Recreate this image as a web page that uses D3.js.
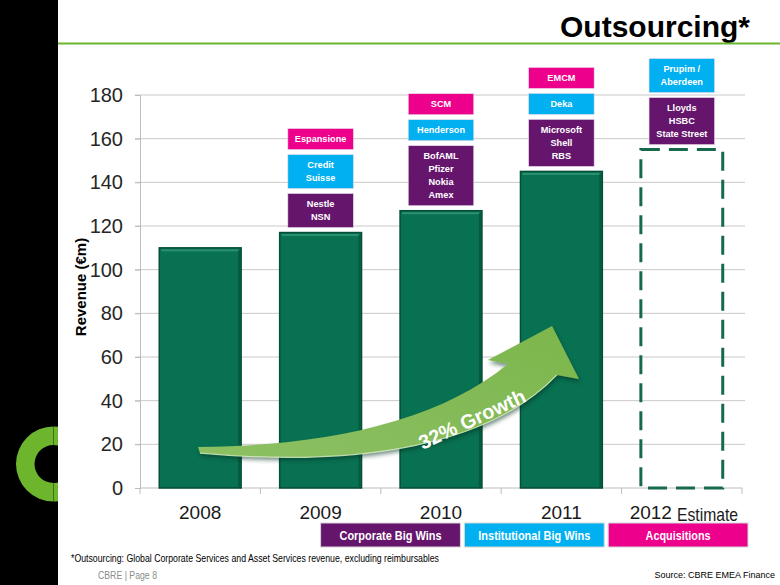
<!DOCTYPE html>
<html>
<head>
<meta charset="utf-8">
<script src="https://cdn.jsdelivr.net/npm/d3@7/dist/d3.min.js"></script>
<style>
  html, body { margin: 0; padding: 0; background: #fff; }
  svg { display: block; font-family: "Liberation Sans", Arial, sans-serif; }
</style>
</head>
<body>
<svg id="chart" width="780" height="585"></svg>
<script>
// ---------------- data ----------------
const years = ["2008", "2009", "2010", "2011", "2012"];
const revenue = [110, 117, 127, 145, 155];
const isEstimate = [false, false, false, false, true];
const yTicks = [0, 20, 40, 60, 80, 100, 120, 140, 160, 180];
const corporateWins = [[], ["Nestle", "NSN"], ["BofAML", "Pfizer", "Nokia", "Amex"], ["Microsoft", "Shell", "RBS"], ["Lloyds", "HSBC", "State Street"]];
const institutionalWins = [[], ["Credit", "Suisse"], ["Henderson"], ["Deka"], ["Prupim /", "Aberdeen"]];
const acquisitions = [[], ["Espansione"], ["SCM"], ["EMCM"], []];
const legendLabels = ["Corporate Big Wins", "Institutional Big Wins", "Acquisitions"];
const title = "Outsourcing*";
const yTitle = "Revenue (€m)";
const estimateLabel = "Estimate";
const growthLabel = "32% Growth";
const footnote = "*Outsourcing: Global Corporate Services and Asset Services revenue, excluding reimbursables";
const pageLabel = "CBRE | Page 8";
const sourceLabel = "Source: CBRE EMEA Finance";

// ---------------- styles ----------------
const colPurple = "#66156d", colCyan = "#00b0f0", colMagenta = "#ec008c";
const winColors = [colPurple, colCyan, colMagenta];
const barFill = "#087152", barEdge = "#044d37", green = "#6cb52d";

const svg = d3.select("#chart");
const defs = svg.append("defs");

// ---------------- scales ----------------
const x = d3.scaleBand().domain(years).range([140, 742]).paddingInner(0.32).paddingOuter(0.16);
const y = d3.scaleLinear().domain([0, 180]).range([488, 95]);
const xi = d3.scaleLinear().domain([0, years.length]).range(x.range()); // continuous band position
const P = (v, val) => [xi(v), y(val)];

// ---------------- decoration: left strip, logo ring, title ----------------
svg.append("rect").attr("x", 0).attr("y", 0).attr("width", 780).attr("height", 585).attr("fill", "#fff");
svg.append("rect").attr("x", 0).attr("y", 0).attr("width", 58).attr("height", 585).attr("fill", "#000");
svg.append("path")
  .attr("transform", "translate(53.5,464)")
  .attr("d", d3.arc()({ innerRadius: 19, outerRadius: 37.5, startAngle: Math.PI, endAngle: 2 * Math.PI }))
  .attr("fill", green);
// right half of ring, only the sliver inside the strip (x 53.5..58)
const ringR = d3.arc()({ innerRadius: 19, outerRadius: 37.5, startAngle: 0, endAngle: Math.PI });
svg.append("clipPath").attr("id", "sliver").append("rect").attr("x", 0).attr("y", -40).attr("width", 4.5).attr("height", 80);
svg.append("g").attr("transform", "translate(53.5,464)").append("path")
  .attr("d", ringR).attr("fill", green).attr("clip-path", "url(#sliver)");

svg.append("text").attr("x", 750).attr("y", 37).attr("text-anchor", "end")
  .attr("font-size", 30).attr("font-weight", "bold").attr("fill", "#000").text(title);
svg.append("line").attr("x1", 58).attr("x2", 780).attr("y1", 43.5).attr("y2", 43.5)
  .attr("stroke", green).attr("stroke-width", 2);

// ---------------- grid & axes ----------------
const grid = svg.append("g");
grid.selectAll("line.grid").data(yTicks.filter(d => d > 0)).join("line")
  .attr("x1", 135).attr("x2", 745)
  .attr("y1", d => y(d)).attr("y2", d => y(d))
  .attr("stroke", "#c9c9c9").attr("stroke-width", 1);

const yAxis = svg.append("g").attr("transform", "translate(140,0)")
  .call(d3.axisLeft(y).tickValues(yTicks).tickSize(5).tickPadding(12));
yAxis.select(".domain").attr("stroke", "#bdbdbd");
yAxis.selectAll(".tick line").attr("stroke", "#bdbdbd");
yAxis.selectAll(".tick text").attr("font-size", 20).attr("fill", "#262626")
  .attr("font-family", "'Liberation Sans', Arial, sans-serif");

// x axis line with ticks at band boundaries
const bounds = d3.range(years.length + 1).map(i => xi(i));
svg.append("line").attr("x1", 140).attr("x2", 742).attr("y1", y(0)).attr("y2", y(0)).attr("stroke", "#bdbdbd");
svg.selectAll("line.xtick").data(bounds).join("line").attr("class", "xtick")
  .attr("x1", d => d).attr("x2", d => d).attr("y1", y(0)).attr("y2", y(0) + 6).attr("stroke", "#bdbdbd");

svg.append("text").attr("transform", `translate(86,287) rotate(-90)`).attr("text-anchor", "middle")
  .attr("font-size", 15).attr("font-weight", "bold").attr("fill", "#000").text(yTitle);

// ---------------- bars ----------------
const data = years.map((yr, i) => ({ yr, v: revenue[i], est: isEstimate[i], i }));
const bars = svg.append("g");
data.filter(d => !d.est).forEach(d => {
  const bx = x(d.yr), bw = x.bandwidth(), by = y(d.v), bh = y(0) - y(d.v);
  bars.append("rect").attr("x", bx).attr("y", by).attr("width", bw).attr("height", bh)
    .attr("fill", barFill).attr("stroke", barEdge).attr("stroke-width", 1.5);
  bars.append("rect").attr("x", bx + 2).attr("y", by + 1.5).attr("width", bw - 4).attr("height", 2)
    .attr("fill", "#2f9472").attr("opacity", 0.9);
  bars.append("rect").attr("x", bx + bw - 3).attr("y", by + 2).attr("width", 2).attr("height", bh - 3)
    .attr("fill", "#05543c").attr("opacity", 0.8);
});
data.filter(d => d.est).forEach(d => {
  bars.append("rect").attr("x", x(d.yr)).attr("y", y(d.v)).attr("width", x.bandwidth()).attr("height", y(0) - y(d.v))
    .attr("fill", "none").attr("stroke", "#17694d").attr("stroke-width", 3).attr("stroke-dasharray", "19 9");
});

// x labels
svg.selectAll("text.xl").data(years).join("text").attr("class", "xl")
  .attr("x", d => x(d) + x.bandwidth() / 2 - (isEstimate[years.indexOf(d)] ? 31 : 0))
  .attr("y", 519).attr("text-anchor", "middle").attr("font-size", 19).attr("fill", "#1a1a1a").text(d => d);
svg.append("text").attr("x", 677).attr("y", 521).attr("font-size", 19).attr("fill", "#1a1a1a")
  .attr("textLength", 61).attr("lengthAdjust", "spacingAndGlyphs").text(estimateLabel);

// ---------------- win boxes stacked above bars ----------------
const lineH = 13, boxGap = 5;
const boxW = x.bandwidth() * 0.8;
const boxes = svg.append("g");
data.forEach(d => {
  let bottom = y(d.v) - 5;
  [corporateWins[d.i], institutionalWins[d.i], acquisitions[d.i]].forEach((lines, k) => {
    if (!lines.length) return;
    const h = lines.length * lineH + 8;
    const top = bottom - h;
    const cx = x(d.yr) + x.bandwidth() / 2;
    boxes.append("rect").attr("x", cx - boxW / 2).attr("y", top).attr("width", boxW).attr("height", h)
      .attr("fill", winColors[k]).attr("stroke", "#e8d9ea").attr("stroke-width", 0.6);
    lines.forEach((t, j) => {
      boxes.append("text").attr("x", cx).attr("y", top + 4 + lineH * (j + 0.5)).attr("dy", "0.35em")
        .attr("text-anchor", "middle").attr("font-size", 9.2).attr("font-weight", "bold").attr("fill", "#fff")
        .text(t);
    });
    bottom = top - boxGap;
  });
});

// ---------------- growth arrow ----------------
const grad = defs.append("linearGradient").attr("id", "arrowGrad").attr("x1", "0").attr("y1", "1").attr("x2", "1").attr("y2", "0");
grad.append("stop").attr("offset", "0").attr("stop-color", "#8cc063");
grad.append("stop").attr("offset", "1").attr("stop-color", "#7cb64c");
const sh = defs.append("filter").attr("id", "arrowShadow").attr("x", "-10%").attr("y", "-10%").attr("width", "130%").attr("height", "140%");
sh.append("feDropShadow").attr("dx", 1).attr("dy", 3).attr("stdDeviation", 2).attr("flood-color", "#03301f").attr("flood-opacity", 0.55);

const pt = (a) => P(a[0], a[1]).join(",");
const tailTop = [0.482, 18.8], uc1 = [1.578, 19.2], uc2 = [2.492, 31.1], uJoin = [3.056, 56.8];
const headL = [2.890, 58.6], tip = [3.422, 74.2], headR = [3.646, 49.9], lJoin = [3.463, 51.8];
const lc1 = [2.907, 19.7], lc2 = [1.827, 9.2], tailBot = [0.498, 16.0];
const arrowD = `M${pt(tailTop)} C${pt(uc1)} ${pt(uc2)} ${pt(uJoin)} L${pt(headL)} L${pt(tip)} L${pt(headR)} L${pt(lJoin)} C${pt(lc1)} ${pt(lc2)} ${pt(tailBot)} Z`;
svg.append("path").attr("d", arrowD).attr("fill", "url(#arrowGrad)").attr("filter", "url(#arrowShadow)");
svg.append("path").attr("d", `M${pt(lJoin)} C${pt(lc1)} ${pt(lc2)} ${pt(tailBot)}`)
  .attr("fill", "none").attr("stroke", "#d9efc6").attr("stroke-width", 1.2).attr("opacity", 0.8);

const tp = P(2.758, 31.5);
svg.append("text").attr("transform", `translate(${tp[0]},${tp[1]}) rotate(-25)`)
  .attr("text-anchor", "middle").attr("dy", "0.35em").attr("font-size", 20).attr("font-weight", "bold")
  .attr("fill", "#fff").text(growthLabel);

// ---------------- legend ----------------
const legX0 = x("2009") + x.bandwidth() / 2, legX1 = 748, legGap = 4;
const legW = (legX1 - legX0 - legGap * 2) / 3;
const legTextW = [102, 112, 65];
legendLabels.forEach((t, k) => {
  const lx = legX0 + k * (legW + legGap);
  svg.append("rect").attr("x", lx).attr("y", 523).attr("width", legW).attr("height", 24)
    .attr("fill", winColors[k]).attr("stroke", "#d6d6d6").attr("stroke-width", 1);
  svg.append("text").attr("x", lx + legW / 2).attr("y", 535).attr("dy", "0.35em").attr("text-anchor", "middle")
    .attr("font-size", 13).attr("font-weight", "bold").attr("fill", "#fff")
    .attr("textLength", legTextW[k]).attr("lengthAdjust", "spacingAndGlyphs").text(t);
});

// ---------------- footer ----------------
svg.append("text").attr("x", 71).attr("y", 562).attr("font-size", 10.5).attr("fill", "#000")
  .attr("textLength", 368).attr("lengthAdjust", "spacingAndGlyphs").text(footnote);
svg.append("text").attr("x", 98).attr("y", 579).attr("font-size", 10.5).attr("fill", "#8c8c8c")
  .attr("textLength", 59).attr("lengthAdjust", "spacingAndGlyphs").text(pageLabel);
svg.append("text").attr("x", 775).attr("y", 578).attr("text-anchor", "end").attr("font-size", 9).attr("fill", "#000")
  .text(sourceLabel);
</script>
</body>
</html>
